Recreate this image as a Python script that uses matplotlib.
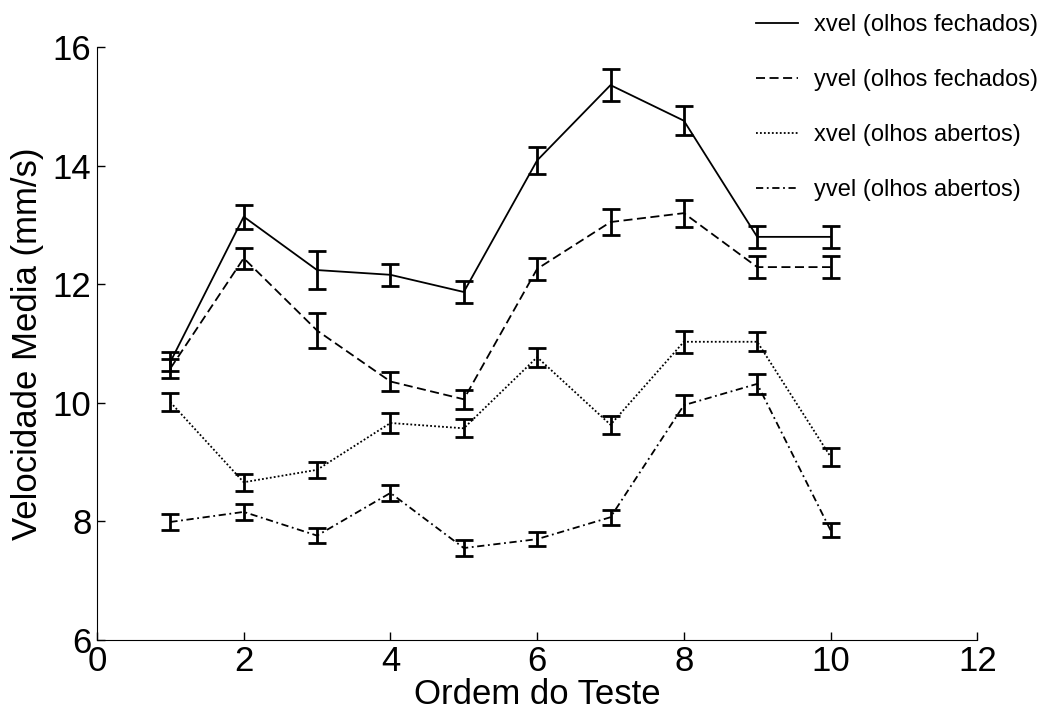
import matplotlib.pyplot as plt

plt.rcParams["font.family"] = ["Liberation Sans", "DejaVu Sans"]

ordem = [1, 2, 3, 4, 5, 6, 7, 8, 9, 10]

xvel_fechados = [10.69, 13.14, 12.24, 12.16, 11.87, 14.09, 15.36, 14.76, 12.80, 12.80]
xvel_fechados_err = [0.16, 0.20, 0.32, 0.19, 0.19, 0.23, 0.27, 0.24, 0.19, 0.19]

yvel_fechados = [10.58, 12.44, 11.22, 10.36, 10.06, 12.26, 13.05, 13.20, 12.29, 12.29]
yvel_fechados_err = [0.16, 0.18, 0.30, 0.16, 0.16, 0.19, 0.22, 0.23, 0.19, 0.19]

xvel_abertos = [10.01, 8.66, 8.87, 9.66, 9.57, 10.77, 9.63, 11.03, 11.03, 9.09]
xvel_abertos_err = [0.15, 0.14, 0.14, 0.17, 0.15, 0.16, 0.15, 0.19, 0.16, 0.15]

yvel_abertos = [7.99, 8.16, 7.76, 8.48, 7.55, 7.70, 8.07, 9.96, 10.32, 7.85]
yvel_abertos_err = [0.13, 0.13, 0.13, 0.14, 0.13, 0.12, 0.13, 0.17, 0.17, 0.12]

series = [
    (xvel_fechados, xvel_fechados_err, "-", "xvel (olhos fechados)"),
    (yvel_fechados, yvel_fechados_err, (0, (5, 2.5)), "yvel (olhos fechados)"),
    (xvel_abertos, xvel_abertos_err, (0, (1, 1.2)), "xvel (olhos abertos)"),
    (yvel_abertos, yvel_abertos_err, (0, (4, 2, 1, 2)), "yvel (olhos abertos)"),
]

fig = plt.figure(figsize=(10.43, 7.15), dpi=100)
ax = fig.add_axes([0.093, 0.105, 0.844, 0.829])

for values, errors, style, label in series:
    ax.errorbar(
        ordem, values, yerr=errors,
        color="black", linestyle=style, linewidth=1.3,
        elinewidth=2.0, capsize=6.5, capthick=2.0, label=label,
    )

ax.set_xlim(0, 12)
ax.set_ylim(6, 16)
ax.set_xticks(range(0, 13, 2))
ax.set_yticks(range(6, 17, 2))
ax.tick_params(direction="in", labelsize=25, length=6, width=1, pad=4)
ax.spines["top"].set_visible(False)
ax.spines["right"].set_visible(False)
ax.set_xlabel("Ordem do Teste", fontsize=25, labelpad=0)
ax.set_ylabel("Velocidade Media (mm/s)", fontsize=25, labelpad=6)

handles, labels = ax.get_legend_handles_labels()
# drop the errorbar glyphs from the legend, keep just the line styles
handles = [h[0] for h in handles]
ax.legend(
    handles, labels, loc="upper left", bbox_to_anchor=(0.725, 1.092),
    frameon=False, fontsize=17, handlelength=1.75, labelspacing=1.40,
    handletextpad=0.68,
)

fig.savefig("out.png", dpi=100)
